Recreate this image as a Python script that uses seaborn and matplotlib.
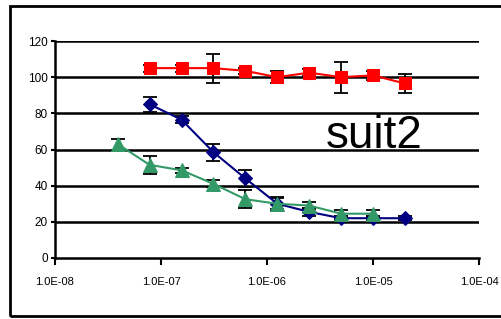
import matplotlib
matplotlib.use('Agg')
import matplotlib.pyplot as plt
import matplotlib.ticker as mticker
from matplotlib.patches import Rectangle
import seaborn as sns

# concentrations (doubling dilution series)
conc_red = [7.8125e-08, 1.5625e-07, 3.125e-07, 6.25e-07, 1.25e-06, 2.5e-06, 5e-06, 1e-05, 2e-05]
conc_blue = [7.8125e-08, 1.5625e-07, 3.125e-07, 6.25e-07, 1.25e-06, 2.5e-06, 5e-06, 1e-05, 2e-05]
conc_green = [3.90625e-08, 7.8125e-08, 1.5625e-07, 3.125e-07, 6.25e-07, 1.25e-06, 2.5e-06, 5e-06, 1e-05]

red_vals = [105, 105, 105, 103.5, 100, 102.5, 100, 101, 96.5]
red_err = [2, 2, 8, 1.5, 3.5, 2, 8.5, 2.5, 5]

blue_vals = [85, 76.5, 58.5, 44, 30, 25.5, 22, 22, 22]
blue_err = [4, 2, 4.7, 4.5, 4, 2, 1, 1, 1]

green_vals = [63, 51.5, 48.5, 41, 32.5, 30, 29, 24.5, 24.5]
green_err = [3, 5, 1.5, 2, 5, 3, 2, 2, 2]

x_ticks = [1e-8, 1e-7, 1e-6, 1e-5, 1e-4]
x_tick_labels = ['1.0E-08', '1.0E-07', '1.0E-06', '1.0E-05', '1.0E-04']
y_ticks = [0, 20, 40, 60, 80, 100, 120]

sns.set_style('white')
plt.rcParams['font.family'] = ['Liberation Sans', 'DejaVu Sans']

fig = plt.figure(figsize=(5.02, 3.19), dpi=100)
ax = fig.add_axes([55 / 502, 1 - 258 / 319, 424 / 502, 217 / 319])

# horizontal gridlines
for yv in y_ticks[1:]:
    ax.axhline(yv, color='black', lw=1.8, zorder=1)

series = [
    (conc_red, red_vals, red_err, '#FF0000', 's', 8.5),
    (conc_blue, blue_vals, blue_err, '#000080', 'D', 7.5),
    (conc_green, green_vals, green_err, '#339966', '^', 9.5),
]
for xs, ys, errs, col, mk, ms in series:
    ax.errorbar(xs, ys, yerr=errs, fmt='none', ecolor='black', elinewidth=1.3,
                capsize=5, capthick=1.3, zorder=2)
    sns.lineplot(x=xs, y=ys, ax=ax, color=col, marker=mk, markersize=ms,
                 markeredgecolor=col, linewidth=1.5, zorder=3)

ax.set_xscale('log')
ax.set_xlim(1e-8, 1e-4)
ax.set_ylim(0, 120)
ax.xaxis.set_major_locator(mticker.FixedLocator(x_ticks))
ax.xaxis.set_minor_locator(mticker.NullLocator())
ax.set_xticks(x_ticks)
ax.set_xticklabels(x_tick_labels)
ax.set_yticks(y_ticks)

for side in ['top', 'right']:
    ax.spines[side].set_visible(False)
for side in ['left', 'bottom']:
    ax.spines[side].set_color('black')
    ax.spines[side].set_linewidth(1.8)

ax.tick_params(axis='x', direction='out', length=5, width=1.5, pad=9,
               labelsize=8, colors='black', bottom=True)
ax.tick_params(axis='y', direction='out', length=3, width=1.5, pad=2,
               labelsize=8.5, colors='black', left=True)

# annotation text placed in pixel coords (from bottom-left)
ax.text(326, 319 - 148, 'suit2', transform=None, fontsize=33, color='black',
        ha='left', va='baseline')

# outer chart frame
fig.patches.append(Rectangle((10 / 502, 3 / 319), 500 / 502, 310 / 319,
                             transform=fig.transFigure, fill=False,
                             edgecolor='black', lw=2, clip_on=False))

fig.savefig('out.png', dpi=100)
